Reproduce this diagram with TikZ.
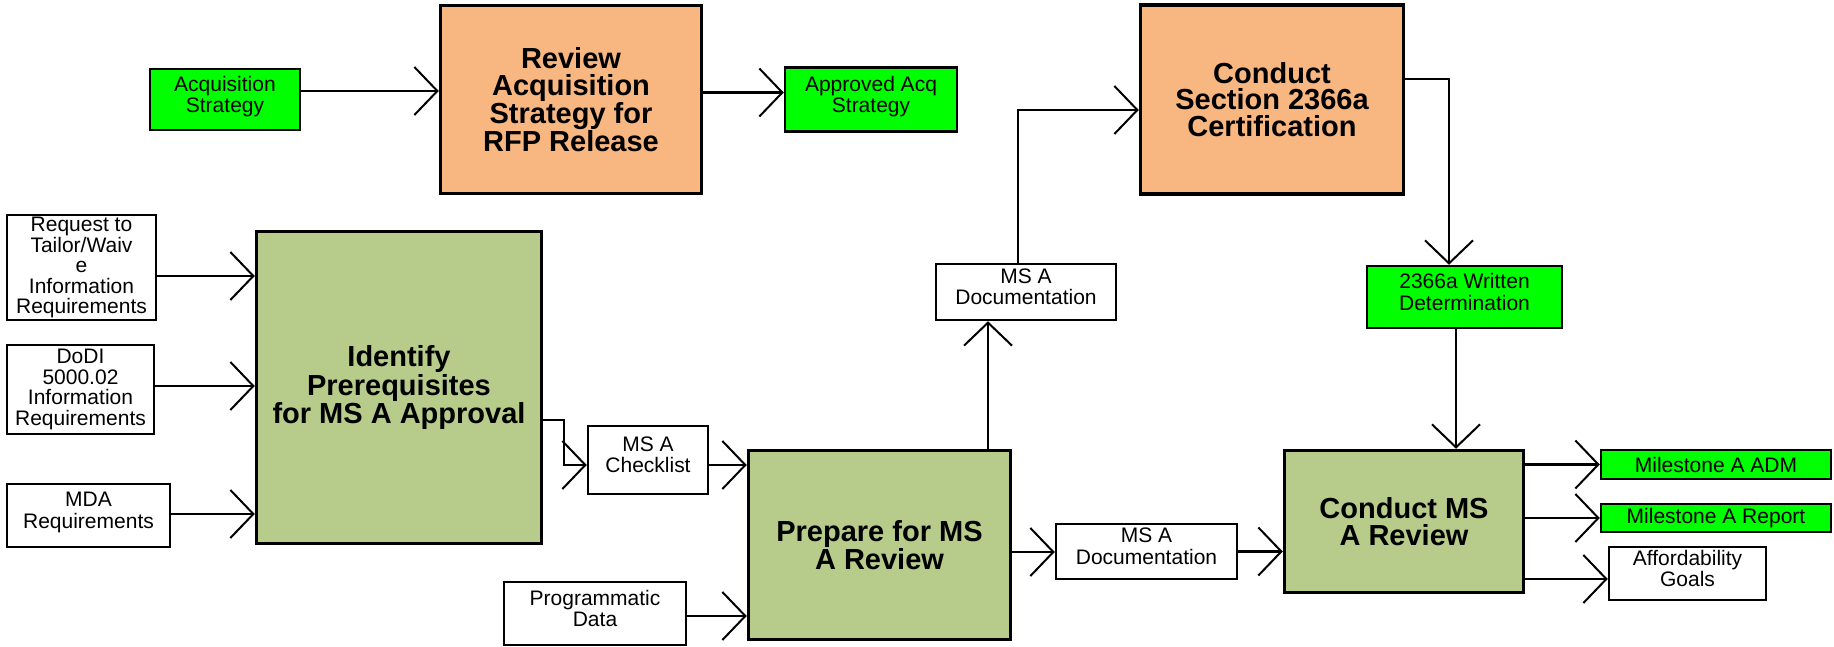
\documentclass[tikz,border=0pt]{standalone}
\usepackage{fontspec}
\setmainfont{Liberation Sans}
\definecolor{DocGreen}  {RGB}{0,255,0}
\definecolor{StepOlive} {RGB}{183,203,138}
\definecolor{StepOrange}{RGB}{248,182,128}
\usetikzlibrary{arrows.meta}
% two-line labels sit a little above the middle of their box
\newcommand{\uptext}[1]{\raisebox{-3pt}[0pt][0pt]{%
  \begin{tabular}{@{}c@{}}#1\end{tabular}}}

\begin{document}
\begin{tikzpicture}[x=1pt,y=-1pt,
    doc/.style={draw,line width=2.5pt,align=center,inner sep=0pt,
                font=\fontsize{21}{20.5}\selectfont},
    stepbox/.style={draw,line width=3.5pt,fill=StepOlive,align=center,
                inner sep=0pt,font=\fontsize{29}{26.5}\selectfont\bfseries},
    flow/.style={line width=2.2pt,
                -{Straight Barb[length=23pt,width=48pt,line width=2pt]}}]
  \useasboundingbox (0,0) rectangle (1834,647);
  %% top row
  \node[doc,fill=DocGreen,minimum width=150,minimum height=61]
       (acqstrat) at (225,99.5) {\uptext{Acquisition\\Strategy}};
  \node[stepbox,fill=StepOrange,minimum width=261,minimum height=188]
       (reviewacq) at (571,99.5) {Review\\Acquisition\\Strategy for\\RFP Release};
  \node[doc,fill=DocGreen,minimum width=172,minimum height=64]
       (approvedacq) at (871,99.5) {\uptext{Approved Acq\\Strategy}};
  \node[stepbox,fill=StepOrange,minimum width=263,minimum height=189]
       (certify) at (1272,99.5) {Conduct\\Section 2366a\\Certification};
  %% inputs
  \node[doc,minimum width=149,minimum height=105]
       (tailorreq) at (81.5,267.5)
       {Request to\\Tailor/Waiv\\e\\Information\\Requirements};
  \node[doc,minimum width=147,minimum height=89]
       (dodireq) at (80.5,389.5)
       {DoDI\\5000.02\\Information\\Requirements};
  \node[doc,minimum width=163,minimum height=63]
       (mdareq) at (88.5,515.5) {\uptext{MDA\\Requirements}};
  \node[stepbox,minimum width=285,minimum height=312]
       (identify) at (399,387.5)
       {Identify\\Prerequisites\\for MS A Approval};
  \node[doc,minimum width=120,minimum height=68]
       (checklist) at (648,460) {\uptext{MS A\\Checklist}};
  \node[stepbox,minimum width=262,minimum height=189]
       (prepare) at (879.5,545) {Prepare for MS\\A Review};
  \node[doc,minimum width=182,minimum height=63]
       (progdata) at (595,613.5) {\uptext{Programmatic\\Data}};
  \node[doc,minimum width=180,minimum height=56]
       (docup) at (1026,292) {\uptext{MS A\\Documentation}};
  \node[doc,minimum width=181,minimum height=55]
       (docright) at (1146.5,551.5) {\uptext{MS A\\Documentation}};
  \node[doc,fill=DocGreen,minimum width=195,minimum height=62]
       (writtendet) at (1464.5,297) {\uptext{2366a Written\\Determination}};
  \node[stepbox,minimum width=239,minimum height=142]
       (conductms) at (1404,521.5) {Conduct MS\\A Review};
  %% outputs
  \node[doc,fill=DocGreen,minimum width=230,minimum height=29]
       (adm) at (1716,464.5) {Milestone A ADM};
  \node[doc,fill=DocGreen,minimum width=230,minimum height=28]
       (report) at (1716,518) {Milestone A Report};
  \node[doc,minimum width=157,minimum height=53]
       (goals) at (1687.5,573.5) {\uptext{Affordability\\Goals}};
  %% connectors
  \draw[flow]([yshift=8.5pt]acqstrat.east)
       --([yshift=8.5pt]acqstrat.east -| reviewacq.west);
  \draw[flow]([yshift=7pt]reviewacq.east)
       --([yshift=7pt]reviewacq.east -| approvedacq.west);
  \draw[flow]([yshift=-8.5pt]tailorreq.east)
       --([yshift=-8.5pt]tailorreq.east -| identify.west);
  \draw[flow]([yshift=3.5pt]dodireq.east)
       --([yshift=3.5pt]dodireq.east -| identify.west);
  \draw[flow]([yshift=1.5pt]mdareq.east)
       --([yshift=1.5pt]mdareq.east -| identify.west);
  \draw[flow]([yshift=-32.5pt]identify.east)--++(21,0)
       |-([yshift=-5pt]checklist.west);
  \draw[flow]([yshift=-5pt]checklist.east)
       --([yshift=-5pt]checklist.east -| prepare.west);
  \draw[flow]([yshift=-2.5pt]progdata.east)
       --([yshift=-2.5pt]progdata.east -| prepare.west);
  \draw[flow]([xshift=108.5pt]prepare.north)
       --([xshift=108.5pt]prepare.north |- docup.south);
  \draw[flow]([xshift=-8pt]docup.north)
       |-([yshift=-10.5pt]certify.west);
  \draw[flow]([yshift=20.5pt]certify.east)
       -|([xshift=-15.5pt]writtendet.north);
  \draw[flow]([yshift=-7pt]prepare.east)
       --([yshift=-7pt]prepare.east -| docright.west);
  \draw[flow](docright.east)--(docright.east -| conductms.west);
  \draw[flow]([xshift=-8.5pt]writtendet.south)
       --([xshift=-8.5pt]writtendet.south |- conductms.north);
  \draw[flow](conductms.east |- adm.west)--(adm.west);
  \draw[flow](conductms.east |- report.west)--(report.west);
  \draw[flow]([yshift=-5.5pt]conductms.east |- goals.west)
       --([yshift=-5.5pt]goals.west);
\end{tikzpicture}
\end{document}
